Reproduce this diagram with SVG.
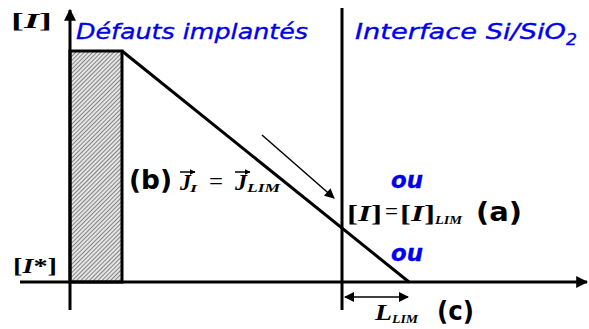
<svg xmlns="http://www.w3.org/2000/svg" width="589" height="329" viewBox="0 0 589 329">
<style>
.ax{stroke:#000;stroke-width:3;fill:none}
.th{stroke:#000;stroke-width:1.5;fill:none}
.m{font-family:"Liberation Serif","Times New Roman",serif;font-weight:bold;fill:#000}
.i{font-style:italic}
.eq{font-family:"Liberation Serif","Times New Roman",serif;font-weight:normal;fill:#000}
.v{font-family:"DejaVu Sans",Verdana,sans-serif;font-weight:bold;fill:#000}
.b{font-family:"DejaVu Sans",Verdana,sans-serif;font-style:italic;fill:#0000ee;stroke:#0000ee;stroke-width:0.35}
</style>
<defs>
<pattern id="hatch" width="3" height="3" patternUnits="userSpaceOnUse" patternTransform="rotate(45)">
<rect width="3" height="3" fill="#e4e4e4"/>
<line x1="0" y1="0" x2="0" y2="3" stroke="#444" stroke-width="1.2"/>
</pattern>
<marker id="ah" viewBox="0 0 10 10" refX="9" refY="5" markerWidth="11" markerHeight="10" markerUnits="userSpaceOnUse" orient="auto-start-reverse">
<path d="M0,0 L10,5 L0,10 z" fill="#000"/>
</marker>
<marker id="ahb" viewBox="0 0 10 10" refX="9" refY="5" markerWidth="4" markerHeight="4" orient="auto">
<path d="M0,0 L10,5 L0,10 z" fill="#000"/>
</marker>
<marker id="ahs" viewBox="0 0 10 10" refX="9" refY="5" markerWidth="6" markerHeight="6" markerUnits="userSpaceOnUse" orient="auto">
<path d="M0,0 L10,5 L0,10 z" fill="#000"/>
</marker>
</defs>
<g id="implanted-region">
<rect x="70" y="51" width="52" height="231" fill="url(#hatch)" stroke="#000" stroke-width="3"/>
</g>
<g id="connectors">
<line class="ax" x1="70" y1="310" x2="70" y2="10" marker-end="url(#ahb)"/>
<line class="ax" x1="20" y1="282" x2="587" y2="282" marker-end="url(#ahb)"/>
<line class="ax" x1="342" y1="8" x2="342" y2="310"/>
<line class="ax" x1="122" y1="51" x2="409" y2="282"/>
<line class="th" x1="262" y1="135" x2="334" y2="198" marker-end="url(#ah)"/>
<line class="th" x1="345" y1="297" x2="408" y2="297" marker-start="url(#ah)" marker-end="url(#ah)"/>
</g>
<g id="labels">
<text class="m" x="11" y="28" font-size="22" textLength="41" lengthAdjust="spacingAndGlyphs">[<tspan class="i">I</tspan>]</text>
<text class="m" x="13" y="273" font-size="22" textLength="44" lengthAdjust="spacingAndGlyphs">[<tspan class="i">I</tspan>*]</text>
<text class="b" x="76" y="39" font-size="22" textLength="232" lengthAdjust="spacingAndGlyphs">Défauts implantés</text>
<text class="b" x="355" y="39" font-size="22" textLength="211" lengthAdjust="spacingAndGlyphs">Interface Si/SiO</text>
<text class="b" x="566" y="45" font-size="15" textLength="11" lengthAdjust="spacingAndGlyphs">2</text>
</g>
<g id="flux-condition">
<text class="v" x="129" y="189" font-size="26" textLength="43" lengthAdjust="spacingAndGlyphs">(b)</text>
<text class="m i" x="180" y="190" font-size="23" textLength="11" lengthAdjust="spacingAndGlyphs">J</text>
<text class="m i" x="190" y="192" font-size="11" textLength="7" lengthAdjust="spacingAndGlyphs">I</text>
<text class="eq" x="209" y="190" font-size="26" textLength="14" lengthAdjust="spacingAndGlyphs">=</text>
<text class="m i" x="235" y="190" font-size="23" textLength="12" lengthAdjust="spacingAndGlyphs">J</text>
<text class="m i" x="247" y="192" font-size="12" textLength="33" lengthAdjust="spacingAndGlyphs">LIM</text>
<line class="th" x1="180" y1="172" x2="195" y2="172" marker-end="url(#ahs)"/>
<line class="th" x1="235" y1="172" x2="250" y2="172" marker-end="url(#ahs)"/>
</g>
<g id="concentration-condition">
<text class="m" x="347" y="221" font-size="23" textLength="35" lengthAdjust="spacingAndGlyphs">[<tspan class="i">I</tspan>]</text>
<text class="eq" x="385" y="220" font-size="25" textLength="13" lengthAdjust="spacingAndGlyphs">=</text>
<text class="m" x="400" y="221" font-size="23" textLength="35" lengthAdjust="spacingAndGlyphs">[<tspan class="i">I</tspan>]</text>
<text class="m i" x="435" y="224" font-size="12" textLength="27" lengthAdjust="spacingAndGlyphs">LIM</text>
<text class="v" x="476" y="221" font-size="26" textLength="46" lengthAdjust="spacingAndGlyphs">(a)</text>
<text class="b" x="391" y="188" font-size="23" font-weight="bold" textLength="32" lengthAdjust="spacingAndGlyphs">ou</text>
<text class="b" x="391" y="261" font-size="23" font-weight="bold" textLength="32" lengthAdjust="spacingAndGlyphs">ou</text>
</g>
<g id="length-condition">
<text class="m i" x="375" y="320" font-size="23" textLength="17" lengthAdjust="spacingAndGlyphs">L</text>
<text class="m i" x="392" y="323" font-size="12" textLength="26" lengthAdjust="spacingAndGlyphs">LIM</text>
<text class="v" x="437" y="320" font-size="26" textLength="37" lengthAdjust="spacingAndGlyphs">(c)</text>
</g>
</svg>
